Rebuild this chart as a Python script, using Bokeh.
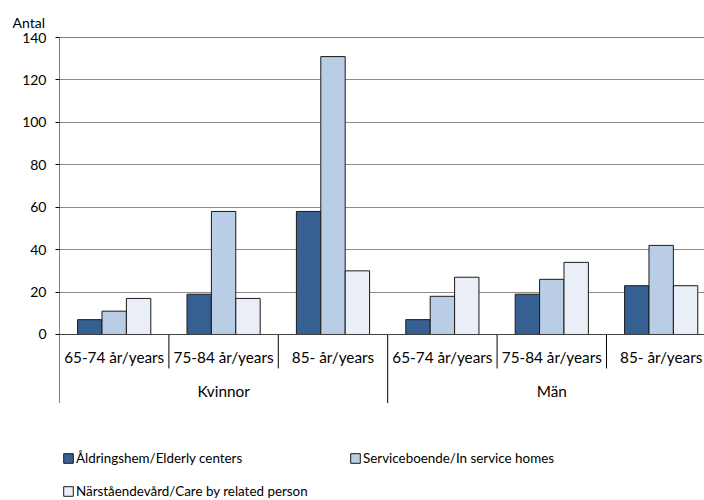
from bokeh.plotting import figure
from bokeh.models import (Range1d, Legend, LegendItem, Span, ColumnDataSource, FixedTicker)
from bokeh.transform import dodge
from bokeh.core.properties import value
from bokeh.embed import file_html
from bokeh.resources import INLINE

genders = ["Kvinnor", "Män"]
ages = ["65-74 år/years", "75-84 år/years", "85- år/years"]
series_names = ["Åldringshem/Elderly centers",
                "Serviceboende/In service homes",
                "Närståendevård/Care by related person"]
aldringshem = [7, 19, 58, 7, 19, 23]
serviceboende = [11, 58, 131, 18, 26, 42]
narstaende = [17, 17, 30, 27, 34, 23]
colors = ["#376092", "#b9cde5", "#e9eef7"]
y_ticks = [0, 20, 40, 60, 80, 100, 120, 140]

FONT = "Lato"
FS = "14px"
FS_CAT = "15.3px"
FS_LEG = "13.4px"

n_age = len(ages)
n_cat = len(genders) * n_age
centers = [i + 0.5 for i in range(n_cat)]
src = ColumnDataSource(dict(x=centers, a=aldringshem, s=serviceboende, n=narstaende,
                            lab=[ages[i % n_age] for i in range(n_cat)]))

p = figure(width=704, height=500, x_range=Range1d(0, 5.896), y_range=Range1d(-78.25, 140),
           x_axis_type=None, output_backend="svg", toolbar_location=None,
           min_border_left=59, min_border_right=0, min_border_top=37, min_border_bottom=0,
           title="Antal")
p.outline_line_color = None
p.xgrid.visible = False
p.ygrid.ticker = FixedTicker(ticks=y_ticks[1:-1])
p.ygrid.grid_line_color = "#8c8c8c"

p.title.align = "left"
p.title.offset = -47
p.title.text_font = FONT
p.title.text_font_size = FS
p.title.text_font_style = "normal"
p.title.text_color = "black"
p.title.standoff = 14

yax = p.yaxis[0]
yax.ticker = FixedTicker(ticks=y_ticks)
yax.axis_line_color = None
yax.major_tick_out = 4
yax.major_tick_in = 0
yax.major_tick_line_color = "black"
yax.minor_tick_line_color = None
yax.major_label_standoff = 9
yax.major_label_text_font = FONT
yax.major_label_text_font_size = FS
yax.major_label_text_color = "black"

w = 0.223
renderers = []
for col, off, c in zip(["a", "s", "n"], [-w, 0, w], colors):
    r = p.vbar(x=dodge("x", off, range=p.x_range), top=col, width=w, source=src,
               fill_color=c, line_color="#1a1a1a", line_width=1)
    renderers.append(r)

p.add_layout(Span(location=0, dimension="width", line_color="#404040", line_width=1))
p.add_layout(Span(location=140, dimension="width", line_color="black", line_width=1))

# left axis line (extended below the plot) and category separators
bx = list(range(0, n_cat))
by_end = [-32.3 if i % n_age == 0 else -16 for i in bx]
by_start = [140 if i == 0 else 0 for i in bx]
p.segment(x0=bx, y0=by_start, x1=bx, y1=by_end, line_color="black", line_width=1)

# category labels
p.text(x="x", y=-10.7, text="lab", source=src, text_align="center", text_baseline="middle",
       text_font=value(FONT), text_font_size=FS_CAT, text_color="black")
p.text(x=[g * n_age + n_age / 2 for g in range(len(genders))], y=[-26.7] * len(genders),
       text=genders, text_align="center", text_baseline="middle",
       text_font=value(FONT), text_font_size=FS_CAT, text_color="black")

legend = Legend(items=[LegendItem(label=nm, renderers=[r]) for nm, r in zip(series_names, renderers)],
                location=(3, 0), orientation="horizontal", ncols=2, padding=0, margin=0, spacing=14,
                glyph_width=12, glyph_height=12, label_standoff=2, label_width=259,
                label_height=19, border_line_color=None, background_fill_alpha=0,
                label_text_font=FONT, label_text_font_size=FS_LEG, label_text_color="black")
p.add_layout(legend)

open("out.html", "w").write(file_html(p, INLINE))
